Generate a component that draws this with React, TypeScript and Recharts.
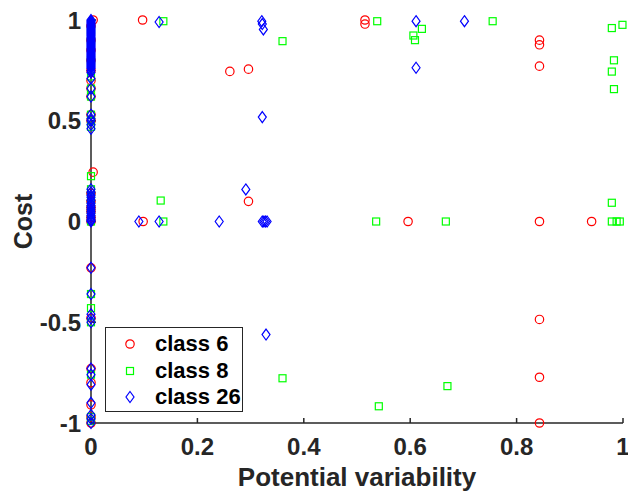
import { ScatterChart, Scatter, XAxis, YAxis, Legend } from 'recharts';

// [potential variability, cost]
const class6: [number, number][] = [
  [0, 0.97], [0, 0.9], [0, 0.85], [0, 0.8], [0, 0.75], [0, 0.7], [0, 0.66], [0, 0.62],
  [0, 0.53], [0, 0.5], [0, 0.14], [0, 0.1], [0, 0.07], [0, 0.05], [0, 0.02], [0, 0],
  [0, -0.23], [0, -0.48], [0, -0.73], [0, -0.8], [0, -0.91], [0, -0.97], [0, -1],
  [0.004, 1.0], [0.004, 0.245],
  [0.097, 1.0], [0.098, 0], [0.261, 0.745], [0.296, 0.756], [0.296, 0.1],
  [0.515, 1.0], [0.515, 0.98], [0.596, 0],
  [0.843, 0.9], [0.843, 0.877], [0.843, 0.771], [0.843, 0], [0.843, -0.486], [0.843, -0.773], [0.843, -1],
  [0.941, 0],
];

const class8: [number, number][] = [
  [0, 0.95], [0, 0.9], [0, 0.8], [0, 0.72], [0, 0.66], [0, 0.62], [0, 0.53], [0, 0.5], [0, 0.47],
  [0, 0.225], [0, 0.16], [0, 0.12], [0, 0.08], [0, 0.04], [0, 0],
  [0, -0.36], [0, -0.43], [0, -0.5], [0, -0.76], [0, -0.97], [0, -0.99],
  [0.136, 0.994], [0.131, 0.104], [0.136, 0],
  [0.36, 0.895], [0.538, 0.994], [0.606, 0.923], [0.609, 0.9], [0.622, 0.956],
  [0.536, 0], [0.667, 0], [0.755, 0.994],
  [0.979, 0.96], [0.999, 0.976], [0.983, 0.8], [0.979, 0.744], [0.983, 0.657], [0.979, 0.093],
  [0.979, 0], [0.988, 0], [0.994, 0],
  [0.36, -0.778], [0.541, -0.917], [0.67, -0.817],
];

const class26: [number, number][] = [
  [0, 1], [0, 0.995], [0, 0.99], [0, 0.985], [0, 0.98], [0, 0.975], [0, 0.97], [0, 0.965], [0, 0.96],
  [0, 0.955], [0, 0.95], [0, 0.945], [0, 0.94], [0, 0.935], [0, 0.93], [0, 0.925], [0, 0.92],
  [0, 0.915], [0, 0.91], [0, 0.905], [0, 0.9], [0, 0.895], [0, 0.89], [0, 0.885], [0, 0.88],
  [0, 0.875], [0, 0.87], [0, 0.865], [0, 0.86], [0, 0.855], [0, 0.85], [0, 0.845], [0, 0.84],
  [0, 0.835], [0, 0.83], [0, 0.825], [0, 0.82], [0, 0.815], [0, 0.81], [0, 0.805], [0, 0.8],
  [0, 0.795], [0, 0.79], [0, 0.785], [0, 0.78], [0, 0.775], [0, 0.77], [0, 0.765], [0, 0.76],
  [0, 0.75], [0, 0.74], [0, 0.71], [0, 0.66], [0, 0.62], [0, 0.53], [0, 0.51], [0, 0.5],
  [0, 0.48], [0, 0.46],
  [0, 0.16], [0, 0.145], [0, 0.13], [0, 0.12], [0, 0.105], [0, 0.09], [0, 0.08], [0, 0.07],
  [0, 0.06], [0, 0.05], [0, 0.04], [0, 0.03], [0, 0.02], [0, 0.01], [0, 0.005], [0, 0],
  [0, -0.23], [0, -0.36], [0, -0.46], [0, -0.48], [0, -0.5], [0, -0.73], [0, -0.76], [0, -0.81],
  [0, -0.9], [0, -0.96], [0, -0.98], [0, -1],
  [0.128, 0.99], [0.09, 0], [0.128, 0], [0.241, 0], [0.291, 0.159],
  [0.321, 0.994], [0.322, 0.98], [0.324, 0.953], [0.322, 0.518],
  [0.322, 0], [0.325, 0], [0.328, 0], [0.331, 0],
  [0.611, 0.994], [0.611, 0.763], [0.702, 0.994], [0.329, -0.561],
];

const xTicks = [0, 0.2, 0.4, 0.6, 0.8, 1];
const yTicks = [-1, -0.5, 0, 0.5, 1];

const toRows = (pts: [number, number][]) => pts.map(([x, y]) => ({ x, y }));

const axisColor = '#262626';
const font = '"Liberation Sans", Arial, sans-serif';
const tickStyle = { fill: axisColor, fontSize: 24, fontWeight: 'bold', fontFamily: font };

const RED = '#ff0000';
const GREEN = '#00ff00';
const BLUE = '#0000ff';

const Circle = (p: any) => (
  <circle cx={p.cx} cy={p.cy} r={4.2} fill="none" stroke={RED} strokeWidth={1.2} />
);
const Square = (p: any) => (
  <rect x={p.cx - 3.5} y={p.cy - 3.5} width={7} height={7} fill="none" stroke={GREEN} strokeWidth={1.2} />
);
const Diamond = (p: any) => (
  <path
    d={`M${p.cx},${p.cy - 5.5}L${p.cx + 4},${p.cy}L${p.cx},${p.cy + 5.5}L${p.cx - 4},${p.cy}Z`}
    fill="none"
    stroke={BLUE}
    strokeWidth={1.2}
  />
);

const legendItems = [
  { name: 'class 6', Icon: Circle },
  { name: 'class 8', Icon: Square },
  { name: 'class 26', Icon: Diamond },
];

function LegendBox() {
  return (
    <div
      style={{
        width: 136,
        height: 83,
        border: `1px solid ${axisColor}`,
        background: '#fff',
        position: 'relative',
      }}
    >
      {legendItems.map(({ name, Icon }, i) => (
        <div
          key={name}
          style={{ position: 'absolute', left: 0, top: 3 + i * 26.5, height: 26, display: 'flex', alignItems: 'center' }}
        >
          <svg width={48} height={26}>
            <Icon cx={24} cy={13} />
          </svg>
          <span style={{ fontFamily: font, fontWeight: 'bold', fontSize: 22, color: '#000', marginLeft: 1 }}>
            {name}
          </span>
        </div>
      ))}
    </div>
  );
}

function CostLabel(props: any) {
  const vb = props.viewBox ?? { x: 0, y: 20, width: 91, height: 403 };
  const cx = 32;
  const cy = vb.y + vb.height / 2;
  return (
    <text
      x={cx}
      y={cy}
      transform={`rotate(-90 ${cx} ${cy})`}
      textAnchor="middle"
      fill={axisColor}
      fontSize={25}
      fontWeight="bold"
      fontFamily={font}
    >
      Cost
    </text>
  );
}

export default function App() {
  return (
    <div style={{ position: 'absolute', left: 0, top: 0, background: '#fff' }}>
      <ScatterChart width={628} height={495} margin={{ top: 20, right: 5, left: 0, bottom: 0 }}>
        <XAxis
          type="number"
          dataKey="x"
          domain={[0, 1]}
          ticks={xTicks}
          interval={0}
          height={72}
          tickSize={-5}
          tickMargin={20}
          axisLine={{ stroke: axisColor, strokeWidth: 1.5 }}
          tickLine={{ stroke: axisColor, strokeWidth: 1.5 }}
          tick={tickStyle}
          tickFormatter={(v: number) => String(v)}
          label={{
            value: 'Potential variability',
            position: 'insideBottom',
            offset: 9,
            fill: axisColor,
            fontSize: 26,
            fontWeight: 'bold',
            fontFamily: font,
          }}
        />
        <YAxis
          type="number"
          dataKey="y"
          domain={[-1, 1]}
          ticks={yTicks}
          interval={0}
          width={91}
          tickSize={-5}
          tickMargin={15}
          axisLine={{ stroke: axisColor, strokeWidth: 1.5 }}
          tickLine={{ stroke: axisColor, strokeWidth: 1.5 }}
          tick={tickStyle}
          tickFormatter={(v: number) => String(v)}
          label={{ content: CostLabel }}
        />
        <Legend
          layout="horizontal"
          verticalAlign="middle"
          align="center"
          content={() => <LegendBox />}
          wrapperStyle={{ left: 105, top: 327, width: 138, height: 85 }}
        />
        <Scatter name="class 6" data={toRows(class6)} shape={Circle} isAnimationActive={false} />
        <Scatter name="class 8" data={toRows(class8)} shape={Square} isAnimationActive={false} />
        <Scatter name="class 26" data={toRows(class26)} shape={Diamond} isAnimationActive={false} />
      </ScatterChart>
    </div>
  );
}
